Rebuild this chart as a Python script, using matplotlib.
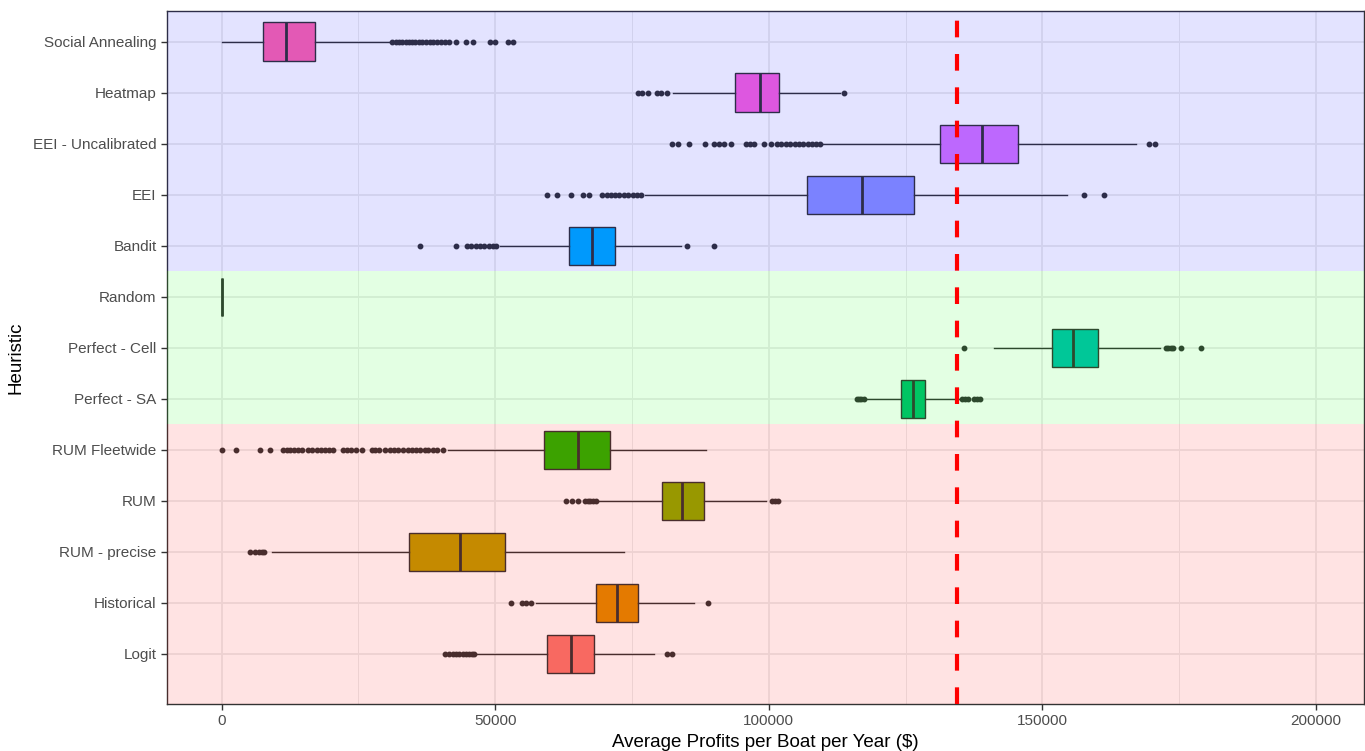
import matplotlib.pyplot as plt
from matplotlib.ticker import MultipleLocator

plt.rcParams['font.family'] = ['Liberation Sans', 'DejaVu Sans']

# Heuristics, bottom to top
heuristics = ['Logit', 'Historical', 'RUM - precise', 'RUM', 'RUM Fleetwide',
              'Perfect - SA', 'Perfect - Cell', 'Random', 'Bandit', 'EEI',
              'EEI - Uncalibrated', 'Heatmap', 'Social Annealing']

whislo = [46600, 57500, 9200, 69000, 41400, 117300, 141100, 0, 50800, 77300, 109800, 82400, 0]
q1 = [59500, 68500, 34200, 80400, 59000, 124100, 151800, 0, 63400, 107000, 131300, 93900, 7530]
med = [63800, 72200, 43600, 84100, 65200, 126300, 155600, 0, 67600, 117000, 138900, 98300, 11850]
q3 = [68000, 76000, 51700, 88100, 71000, 128600, 160100, 0, 71800, 126600, 145500, 101900, 17080]
whishi = [79000, 86300, 73600, 99500, 88600, 134700, 171500, 0, 84000, 154400, 167100, 113000, 31160]

outliers = [
    [40900, 41500, 42200, 42800, 43300, 44100, 44700, 45200, 45700, 46200, 81300, 82300],
    [52900, 54900, 55700, 56600, 88800],
    [5200, 6100, 6900, 7400, 7800],
    [62900, 64100, 65200, 66400, 66900, 67400, 67900, 68500, 100600, 101200, 101700],
    [0, 2700, 7000, 8900, 11300, 11900, 12500, 13200, 13900, 14600, 15700, 16600,
     17400, 18100, 18800, 19600, 20400, 22200, 22900, 23700, 24600, 25700, 27400,
     28100, 28800, 29900, 30700, 31500, 32300, 33100, 34100, 34800, 35600, 36300,
     37100, 37800, 38600, 39400, 40400],
    [116100, 116500, 116900, 117300, 135300, 135800, 136400, 137500, 138000, 138600],
    [135700, 172500, 173000, 173500, 173900, 175400, 178900],
    [],
    [36200, 42800, 44900, 45600, 46400, 47200, 48000, 48800, 49500, 50200, 85100, 89900],
    [59400, 61300, 63800, 66100, 67100, 69600, 70400, 71100, 71900, 72700, 73500,
     74300, 75100, 75900, 76600, 157600, 161300],
    [82300, 83400, 85400, 88300, 90000, 90800, 91800, 93000, 95800, 96500, 97300,
     99100, 100400, 101500, 102300, 103100, 103900, 104700, 105500, 106300, 107100,
     107900, 108700, 109300, 169400, 170600],
    [76000, 76800, 78000, 79500, 80300, 81400, 113700],
    [31200, 31800, 32400, 33000, 33600, 34200, 34800, 35400, 36000, 36600, 37300,
     38000, 38700, 39400, 40100, 40800, 41600, 42900, 44600, 46000, 49100, 50000,
     52400, 53300],
]

colors = ['#F8766D', '#E18A00', '#BE9C00', '#8CAB00', '#24B700', '#00BE70',
          '#00C1AB', '#00BBDA', '#00ACFC', '#8B93FF', '#D575FE', '#F962DD', '#FF65AC']

# group shading: (low, high, colour)
bands = [(0.0, 5.5, '#FF0000'), (5.5, 8.5, '#00FF00'), (8.5, 14.0, '#0000FF')]
benchmark = 134400

stats = []
for i, name in enumerate(heuristics):
    stats.append({'label': name, 'whislo': whislo[i], 'q1': q1[i], 'med': med[i],
                  'q3': q3[i], 'whishi': whishi[i], 'fliers': outliers[i]})

fig = plt.figure(figsize=(13.65, 7.51), dpi=100)
ax = fig.add_axes([0.1223, 0.0626, 0.8767, 0.9228])

positions = list(range(1, len(heuristics) + 1))
bp = ax.bxp(stats, positions=positions, vert=False, widths=0.75, patch_artist=True,
            showcaps=False,
            boxprops=dict(edgecolor='#333333', linewidth=1.0),
            medianprops=dict(color='#333333', linewidth=2.0),
            whiskerprops=dict(color='#333333', linewidth=1.0),
            flierprops=dict(marker='o', markersize=3.2, markerfacecolor='#333333',
                            markeredgecolor='#333333', linestyle='none'))
for patch, c in zip(bp['boxes'], colors):
    patch.set_facecolor(c)
    patch.set_zorder(2)

for lo, hi, c in bands:
    ax.axhspan(lo, hi, color=c, alpha=0.11, linewidth=0, zorder=3)

ax.axvline(benchmark, color='#FF0000', linewidth=3.0, linestyle=(0, (4, 4)), zorder=4)

ax.set_yticks(positions)
ax.set_yticklabels(heuristics)
ax.xaxis.set_major_locator(MultipleLocator(50000))
ax.xaxis.set_minor_locator(MultipleLocator(25000))
ax.set_xlim(-10000, 208700)
ax.set_ylim(0.02, 13.6)
ax.set_xticks([0, 50000, 100000, 150000, 200000])
ax.set_xticklabels(['0', '50000', '100000', '150000', '200000'])

ax.set_axisbelow(True)
ax.grid(which='major', color='#EBEBEB', linewidth=1.3)
ax.grid(which='minor', axis='x', color='#EBEBEB', linewidth=0.7)
ax.tick_params(which='major', length=4, width=1, color='#333333',
               labelcolor='#4D4D4D', labelsize=11)
ax.tick_params(which='minor', length=0)
for s in ax.spines.values():
    s.set_color('#333333')
    s.set_linewidth(1.0)

ax.set_xlabel('Average Profits per Boat per Year ($)', fontsize=13.5, labelpad=4)
ax.set_ylabel('Heuristic', fontsize=13.5, labelpad=6)

fig.savefig('out.png', dpi=100)
